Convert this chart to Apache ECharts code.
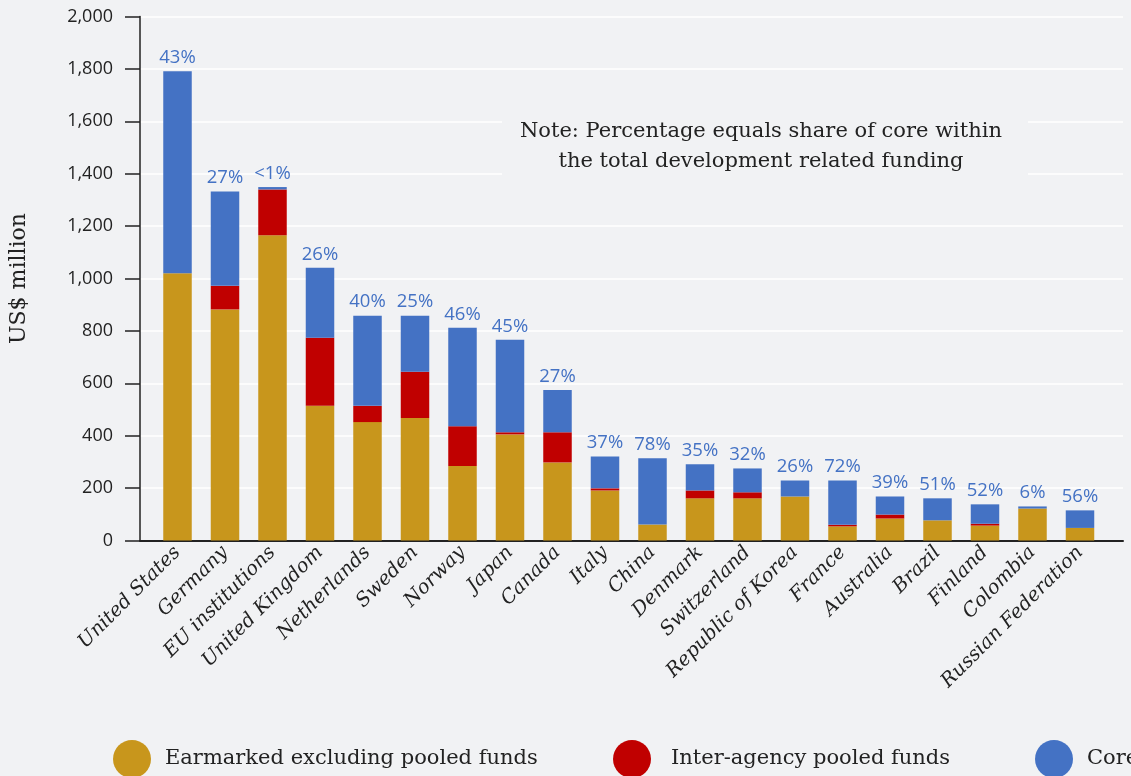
<!DOCTYPE html>
<html>
<head>
<meta charset="utf-8">
<script src="https://cdn.jsdelivr.net/npm/echarts@6/dist/echarts.min.js"></script>
<style>
html,body{margin:0;padding:0;background:#f1f2f4;}
#chart{width:1131px;height:776px;}
</style>
</head>
<body>
<div id="chart"></div>
<script>
const countries = ["United States","Germany","EU institutions","United Kingdom","Netherlands","Sweden","Norway","Japan","Canada","Italy","China","Denmark","Switzerland","Republic of Korea","France","Australia","Brazil","Finland","Colombia","Russian Federation"];
const earmarked = [1020,882,1165,514,452,468,284,405,298,191,61,161,161,168,54,84,77,57,122,48];
const pooled    = [0,90,175,260,62,176,152,8,115,8,0,30,23,0,6,15,0,7,0,0];
const core      = [771,360,9,267,344,214,376,353,161,122,253,100,91,61,169,69,84,74,8,67];
const corePct   = ["43%","27%","<1%","26%","40%","25%","46%","45%","27%","37%","78%","35%","32%","26%","72%","39%","51%","52%","6%","56%"];
const yTicks = {min:0, max:2000, interval:200};
const seriesNames = ["Earmarked excluding pooled funds","Inter-agency pooled funds","Core"];
const noteLines = ["Note: Percentage equals share of core within","the total development related funding"];

const BG = "#f1f2f4";
const GOLD = "#c8961c", RED = "#c00000", BLUE = "#4472c4";
const TXT = "#222222";

const chart = echarts.init(document.getElementById('chart'));
const legendBase = {
  orient:'horizontal', icon:'circle', itemWidth:38, itemHeight:38, padding:0, top:740,
  textStyle:{fontFamily:'DejaVu Serif', fontSize:21, color:TXT, padding:[0,0,0,9]},
  selectedMode:false
};
chart.setOption({
  backgroundColor: BG,
  animation:false,
  grid:[
    {left:140, right:8, top:16.5, bottom:235.5},
    {left:153.75, right:27.25, top:16.5, bottom:235.5}
  ],
  legend:[
    Object.assign({}, legendBase, {data:[seriesNames[0]], left:113}),
    Object.assign({}, legendBase, {data:[seriesNames[1]], left:613, textStyle:Object.assign({}, legendBase.textStyle, {padding:[0,0,0,15]})}),
    Object.assign({}, legendBase, {data:[seriesNames[2]], left:1035})
  ],
  xAxis:[
    {type:'value', gridIndex:0, min:0, max:1, axisLine:{show:true, onZero:false, lineStyle:{color:TXT, width:2}},
     axisTick:{show:false}, axisLabel:{show:false}, splitLine:{show:false}},
    {type:'category', gridIndex:1, data:countries, axisLine:{show:false}, axisTick:{show:false},
     axisLabel:{rotate:45, interval:0, margin:9, fontFamily:'DejaVu Serif', fontStyle:'italic', fontSize:19.5, color:TXT}}
  ],
  yAxis:[
    {type:'value', gridIndex:0, min:yTicks.min, max:yTicks.max, interval:yTicks.interval,
     name:'US$ million', nameLocation:'middle', nameGap:110, nameRotate:90,
     nameTextStyle:{fontFamily:'DejaVu Serif', fontSize:22, color:TXT},
     axisLine:{show:true, lineStyle:{color:TXT, width:1.5}},
     axisTick:{show:true, inside:false, length:15, lineStyle:{color:TXT, width:1.5}},
     axisLabel:{margin:27, fontFamily:'Open Sans', fontSize:18, color:TXT,
       formatter:v=>v.toLocaleString('en-US')},
     splitLine:{show:true, lineStyle:{color:'#ffffff', width:1.5}}},
    {type:'value', gridIndex:1, min:yTicks.min, max:yTicks.max, interval:yTicks.interval, show:false, splitLine:{show:false}}
  ],
  graphic:[
    {type:'rect', z:10, shape:{x:502, y:100, width:526, height:95}, style:{fill:BG}},
    {type:'text', z:11, x:761, y:132, style:{text:noteLines[0], fontFamily:'DejaVu Serif', fontSize:21, fill:TXT, textAlign:'center', textVerticalAlign:'middle'}},
    {type:'text', z:11, x:761, y:162, style:{text:noteLines[1], fontFamily:'DejaVu Serif', fontSize:21, fill:TXT, textAlign:'center', textVerticalAlign:'middle'}}
  ],
  series:[
    {name:seriesNames[0], type:'bar', stack:'t', xAxisIndex:1, yAxisIndex:1, barWidth:28.5, data:earmarked, itemStyle:{color:GOLD}},
    {name:seriesNames[1], type:'bar', stack:'t', xAxisIndex:1, yAxisIndex:1, barWidth:28.5, data:pooled, itemStyle:{color:RED}},
    {name:seriesNames[2], type:'bar', stack:'t', xAxisIndex:1, yAxisIndex:1, barWidth:28.5, data:core, itemStyle:{color:BLUE},
     label:{show:true, position:'top', distance:4, fontFamily:'Open Sans', fontSize:18.5, color:BLUE,
       formatter:p=>corePct[p.dataIndex]}}
  ]
});
</script>
</body>
</html>
